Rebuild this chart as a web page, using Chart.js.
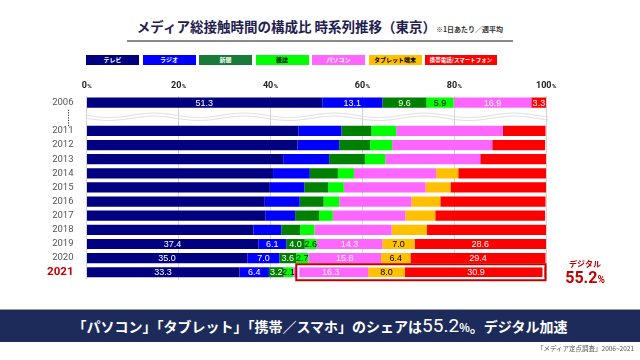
<!DOCTYPE html>
<html lang="ja">
<head>
<meta charset="utf-8">
<script src="https://cdn.jsdelivr.net/npm/chart.js@4"></script>
<style>
  html, body { margin: 0; padding: 0; background: #fff; }
  body { width: 640px; height: 360px; position: relative; overflow: hidden;
         font-family: "Noto Sans CJK JP", "Noto Sans", sans-serif; }
  #title { position: absolute; left: 0; width: 640px; top: 16px; text-align: center; white-space: nowrap;
           color: #1f2050; font-weight: bold; font-size: 13.5px; line-height: 20px; }
  #title small { font-size: 7px; font-weight: bold; color: #333; }
  #rule { position: absolute; left: 127px; width: 386px; top: 40px; height: 2px; background: #8a8a8a; }
  .lg { position: absolute; top: 55px; height: 10px; line-height: 10px; font-size: 6px; font-weight: bold;
        text-align: center; white-space: nowrap; overflow: hidden; }
  #wrap { position: absolute; left: 0; top: 70px; width: 640px; height: 220px; }
  #digi { position: absolute; left: 560px; width: 50px; top: 259px; text-align: center; color: #c00000; }
  #digi .a { font-size: 8px; line-height: 10px; font-weight: bold; }
  #digi .b { font-family: Roboto, sans-serif; font-size: 16px; line-height: 18px; font-weight: bold; }
  #digi .b span { font-size: 10px; }
  #banner { position: absolute; left: 0; top: 309px; width: 640px; height: 32px; background: #1c2b5a;
            border-top: 1px solid #9a9a9a; color: #fff; text-align: center; font-size: 14px; line-height: 32px;
            font-weight: bold; white-space: nowrap; }
  #banner .n { font-family: Roboto, sans-serif; font-size: 19px; font-weight: normal; }
  #banner .p { font-size: 11px; }
  #src { position: absolute; right: 6px; top: 343px; font-size: 6.5px; color: #555; }
</style>
</head>
<body>
<div id="title">メディア総接触時間の構成比 時系列推移（東京）<small>※1日あたり／週平均</small></div>
<div id="rule"></div>
<div id="legend"></div>
<div id="wrap"><canvas id="chart"></canvas></div>
<div id="digi"><div class="a">デジタル</div><div class="b" id="digiVal"></div></div>
<div id="banner">「パソコン」「タブレット」「携帯／スマホ」のシェアは<span class="n">55.2</span><span class="p">%</span>。デジタル加速</div>
<div id="src">「メディア定点調査」2006~2021</div>
<script>
// ---- data (share of total media time, %) ----
const years   = ['2006', '', '2011', '2012', '2013', '2014', '2015', '2016', '2017', '2018', '2019', '2020', '2021'];
const tv      = [51.3, null, 46.1, 45.9, 42.8, 40.6, 39.9, 38.8, 38.9, 36.3, 37.4, 35.0, 33.3];
const radio   = [13.1, null,  9.4,  9.1, 10.0,  8.0,  7.5,  7.6,  6.5,  6.1,  6.1,  7.0,  6.4];
const paper   = [ 9.6, null,  6.5,  6.7,  7.8,  6.1,  5.2,  5.2,  5.2,  4.1,  4.0,  3.6,  3.2];
const magazine= [ 5.9, null,  5.4,  4.8,  4.4,  3.5,  3.4,  3.4,  3.0,  3.1,  2.6,  2.7,  2.1];
const pc      = [16.9, null, 23.2, 21.8, 20.7, 17.9, 17.8, 15.7, 15.8, 16.8, 14.3, 15.8, 16.3];
const tablet  = [ 0.0, null,  0.0,  0.0,  0.0,  4.8,  5.4,  6.3,  6.5,  7.7,  7.0,  6.4,  8.0];
const mobile  = [ 3.3, null,  9.3, 11.5, 14.3, 19.2, 20.9, 22.9, 23.9, 26.0, 28.6, 29.4, 30.9];
const xTicks  = [0, 20, 40, 60, 80, 100];
const labeledYears = ['2006', '2019', '2020', '2021'];

const seriesNames  = ['テレビ', 'ラジオ', '新聞', '雑誌', 'パソコン', 'タブレット端末', '携帯電話/スマートフォン'];
const seriesData   = [tv, radio, paper, magazine, pc, tablet, mobile];
const seriesColors = ['#000080', '#0000ff', '#008000', '#00ff00', '#ff66ff', '#ffc000', '#ff0000'];
const legendColors = ['#000080', '#0000ff', '#1a7a3a', '#00ff00', '#ff66ff', '#ffc000', '#ff0000'];
const textColors   = ['#fff', '#fff', '#fff', '#000', '#fff', '#000', '#fff'];

// digital share for the last year
const last = years.length - 1;
const digital = pc[last] + tablet[last] + mobile[last];
document.getElementById('digiVal').innerHTML = digital.toFixed(1) + '<span>%</span>';

// legend boxes with text inside
const legendEl = document.getElementById('legend');
let lx = 86;
seriesNames.forEach((name, i) => {
    const w = i === seriesNames.length - 1 ? 72 : 53;
    const d = document.createElement('div');
    d.className = 'lg';
    d.style.left = lx + 'px';
    d.style.width = w + 'px';
    d.style.background = legendColors[i];
    d.style.color = textColors[i];
    if (i === seriesNames.length - 1) d.style.fontSize = '5.5px';
    d.textContent = name;
    legendEl.appendChild(d);
    lx += 56.5;
});

// wavy break line, dotted marker, top tick labels, value labels, 2021 frame
const decor = {
    id: 'decor',
    beforeDatasetsDraw(chart) {
        const ctx = chart.ctx, ys = chart.scales.y, area = chart.chartArea;
        const yc = ys.getPixelForValue(1);
        ctx.save();
        ctx.strokeStyle = '#d8d8d8';
        ctx.lineWidth = 1;
        [-1.5, 1.5].forEach(off => {
            ctx.beginPath();
            for (let x = area.left; x <= area.right + 3; x += 1) {
                const y = yc + off + 2.2 * Math.sin((x - area.left) / 90 * 2 * Math.PI);
                if (x === area.left) ctx.moveTo(x, y); else ctx.lineTo(x, y);
            }
            ctx.stroke();
        });
        ctx.restore();
    },
    afterDatasetsDraw(chart) {
        const ctx = chart.ctx, xs = chart.scales.x, ys = chart.scales.y, area = chart.chartArea;
        ctx.save();
        // top axis labels: bold number + small %
        ctx.fillStyle = '#222';
        ctx.textBaseline = 'alphabetic';
        xTicks.forEach(v => {
            const num = String(v);
            ctx.font = 'bold 9px Roboto, sans-serif';
            const w1 = ctx.measureText(num).width;
            ctx.font = 'bold 6px Roboto, sans-serif';
            const w2 = ctx.measureText('%').width;
            const x0 = xs.getPixelForValue(v) - (w1 + w2) / 2;
            ctx.font = 'bold 9px Roboto, sans-serif';
            ctx.textAlign = 'left';
            ctx.fillText(num, x0, area.top - 8);
            ctx.font = 'bold 6px Roboto, sans-serif';
            ctx.fillText('%', x0 + w1 + 0.5, area.top - 8);
        });
        // frame around digital segments of the last year
        const yc = ys.getPixelForValue(last);
        const xl = xs.getPixelForValue(tv[last] + radio[last] + paper[last] + magazine[last]) + 3;
        const xr = xs.getPixelForValue(100) - 0.5;
        ctx.strokeStyle = '#fff';
        ctx.lineWidth = 2;
        ctx.strokeRect(xl + 2, yc - 6, xr - xl - 4, 12);
        ctx.strokeStyle = '#c00000';
        ctx.lineWidth = 2;
        ctx.strokeRect(xl, yc - 8, xr - xl, 16);
        // value labels
        ctx.font = '9px "Liberation Sans", Arial, sans-serif';
        ctx.textAlign = 'center';
        ctx.textBaseline = 'middle';
        labeledYears.forEach(yr => {
            const idx = years.indexOf(yr);
            let acc = 0;
            seriesData.forEach((arr, i) => {
                const v = arr[idx];
                if (v) {
                    const x = xs.getPixelForValue(acc + v / 2);
                    ctx.fillStyle = textColors[i];
                    ctx.fillText(v.toFixed(1), x, ys.getPixelForValue(idx) + 0.5);
                }
                acc += v || 0;
            });
        });
        ctx.restore();
    },
    afterDraw(chart) {
        // dotted vertical marker in the label column (gap row)
        const ctx = chart.ctx, yc = chart.scales.y.getPixelForValue(1);
        ctx.save();
        ctx.fillStyle = '#333';
        for (let y = yc - 7; y <= yc + 8; y += 2.5) ctx.fillRect(68, y, 1, 1.2);
        ctx.restore();
    }
};

new Chart(document.getElementById('chart'), {
    type: 'bar',
    data: {
        labels: years,
        datasets: seriesData.map((arr, i) => ({
            label: seriesNames[i],
            data: arr,
            backgroundColor: seriesColors[i],
            borderWidth: 0,
            barPercentage: 0.72,
            categoryPercentage: 1
        }))
    },
    options: {
        indexAxis: 'y',
        responsive: true,
        maintainAspectRatio: false,
        animation: false,
        layout: { padding: { left: 0, right: 94, top: 5, bottom: 2 } },
        plugins: { legend: { display: false }, tooltip: { enabled: false } },
        scales: {
            x: {
                position: 'top',
                stacked: true,
                min: 0,
                max: 100,
                afterBuildTicks: s => { s.ticks = xTicks.map(v => ({ value: v })); },
                ticks: { display: false },
                afterFit: s => { s.height = 20.6; },
                border: { display: false },
                grid: { color: '#d4d4d4', drawTicks: false }
            },
            y: {
                stacked: true,
                afterFit: s => { s.width = 86.5; },
                border: { display: false },
                grid: { display: false },
                ticks: {
                    autoSkip: false,
                    padding: 5,
                    color: c => c.index === last ? '#c00000' : '#555',
                    font: c => c.index === last
                        ? { size: 11.5, weight: 'bold', family: 'Roboto, sans-serif' }
                        : { size: 9.5, family: 'Roboto, sans-serif' }
                }
            }
        }
    },
    plugins: [decor]
});
</script>
</body>
</html>
